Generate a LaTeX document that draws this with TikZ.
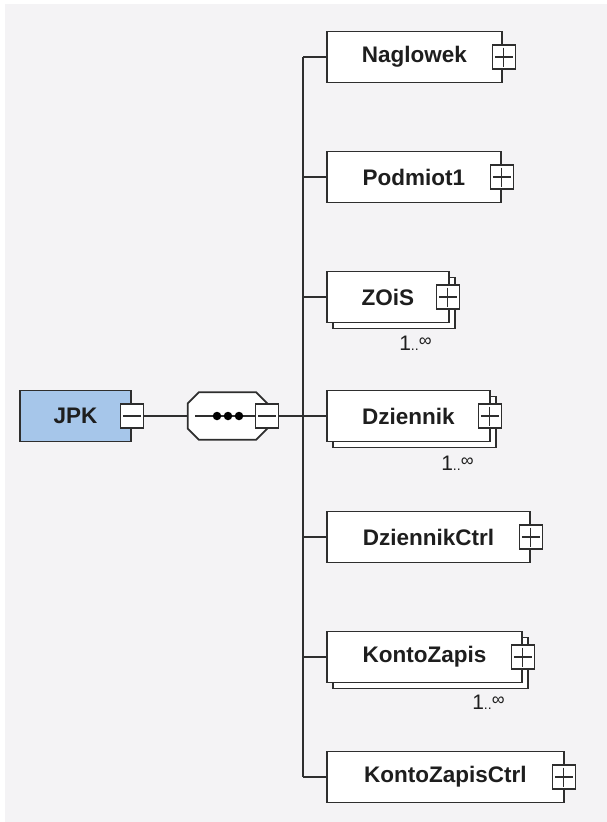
\documentclass[tikz,border=0pt]{standalone}
\usepackage{fontspec}
\setmainfont{Liberation Sans}
\usetikzlibrary{shadows}
\definecolor{bgc}{HTML}{F4F3F5}
\definecolor{jpkblue}{HTML}{A6C6EA}
\definecolor{ln}{HTML}{2E2E2E}
\definecolor{txt}{HTML}{1E1E1E}
\tikzset{
  elem/.style={draw=ln, line width=1.8pt, fill=white, minimum height=51pt,
    inner sep=0pt, anchor=west, text=txt,
    font=\bfseries\fontsize{22.5}{26}\selectfont},
  multi/.style={elem, copy shadow={shadow xshift=6pt, shadow yshift=-6pt}},
  pm/.style={draw=ln, line width=1.5pt, fill=white, minimum width=23pt,
    minimum height=24pt, inner sep=0pt},
  plusbox/.style={pm, path picture={
    \draw[ln, line width=1.3pt]
      ([xshift=2.5pt]path picture bounding box.west) --
      ([xshift=-2.5pt]path picture bounding box.east);
    \draw[ln, line width=1.3pt]
      ([yshift=-2.5pt]path picture bounding box.north) --
      ([yshift=2.5pt]path picture bounding box.south);}},
  minusbox/.style={pm, path picture={
    \draw[ln, line width=1.8pt]
      ([xshift=2.5pt]path picture bounding box.west) --
      ([xshift=-2.5pt]path picture bounding box.east);}},
  conn/.style={draw=ln, line width=1.8pt},
  octa/.style={draw=ln, line width=1.8pt, fill=white, line join=miter},
  card/.style={anchor=base east, text=txt, inner sep=0pt},
  dot/.style={circle, fill=black, minimum size=8.5pt, inner sep=0pt},
}
\newcommand{\cardtext}{{\fontsize{21}{24}\selectfont 1}{\fontsize{14}{14}\selectfont ..}\raisebox{3.5pt}{\fontsize{18}{18}\selectfont ∞}}
\begin{document}
\begin{tikzpicture}[x=1pt,y=-1pt]
\useasboundingbox (0,0) rectangle (607,822);
\fill[bgc] (5,4) rectangle (607,822);

% root element
\node[elem, fill=jpkblue, draw=ln, minimum width=111pt, anchor=center] (jpk) at (75.5,416) {JPK};
\node[minusbox] (jpkm) at (jpk.east) {};

% sequence compositor (octagon)
\node[minimum width=79pt, minimum height=47pt, inner sep=0pt] (seq) at (227.5,416) {};
\path[octa] ([xshift=11pt]seq.north west) -- ([xshift=-11pt]seq.north east)
  -- ([yshift=-11pt]seq.north east) -- ([yshift=11pt]seq.south east)
  -- ([xshift=-11pt]seq.south east) -- ([xshift=11pt]seq.south west)
  -- ([yshift=11pt]seq.south west) -- ([yshift=-11pt]seq.north west) -- cycle;
\coordinate (seqin) at (195,416);
\node[minusbox] (seqm) at (seq.east) {};
\draw[conn] (seqin) -- (seqm.west);
\node[dot] (d1) at (217,416) {};
\node[dot] (d2) at (228,416) {};
\node[dot] (d3) at (239,416) {};

% children
\node[elem, minimum width=175pt] (nag) at (326,57) {Naglowek};
\node[plusbox] (nagp) at ([xshift=1pt]nag.east) {};
\node[elem, minimum width=174pt] (pod) at (326,177) {Podmiot1};
\node[plusbox] (podp) at (pod.east) {};
\node[multi, minimum width=122pt] (zois) at (326,297) {ZOiS};
\node[plusbox] (zoisp) at ([xshift=-2pt]zois.east) {};
\node[card] (zoisc) at ([shift={(-18,27)}]zois.south east) {\cardtext};
\node[multi, minimum width=163pt] (dz) at (326,416) {Dziennik};
\node[plusbox] (dzp) at ([xshift=-1pt]dz.east) {};
\node[card] (dzc) at ([shift={(-17,28)}]dz.south east) {\cardtext};
\node[elem, minimum width=203pt] (dzc2) at (326,537) {DziennikCtrl};
\node[plusbox] (dzcp) at (dzc2.east) {};
\node[multi, minimum width=195pt] (kz) at (326,657) {KontoZapis};
\node[plusbox] (kzp) at (kz.east) {};
\node[card] (kzc) at ([shift={(-18,26)}]kz.south east) {\cardtext};
\node[elem, minimum width=237pt] (kzc2) at (326,777) {KontoZapisCtrl};
\node[plusbox] (kzcp) at ([xshift=-1pt]kzc2.east) {};

% connectors
\coordinate (vtop) at (303,57);
\coordinate (vbot) at (303,777);
\draw[conn] (jpkm.east) -- (seq.west);
\draw[conn] (seqm.east) -- (dz.west);
\draw[conn] (vtop) -- (vbot);
\draw[conn] (vtop) -- (nag.west);
\draw[conn] (pod.west -| vtop) -- (pod.west);
\draw[conn] (zois.west -| vtop) -- (zois.west);
\draw[conn] (dzc2.west -| vtop) -- (dzc2.west);
\draw[conn] (kz.west -| vtop) -- (kz.west);
\draw[conn] (vbot) -- (kzc2.west);
\end{tikzpicture}
\end{document}
